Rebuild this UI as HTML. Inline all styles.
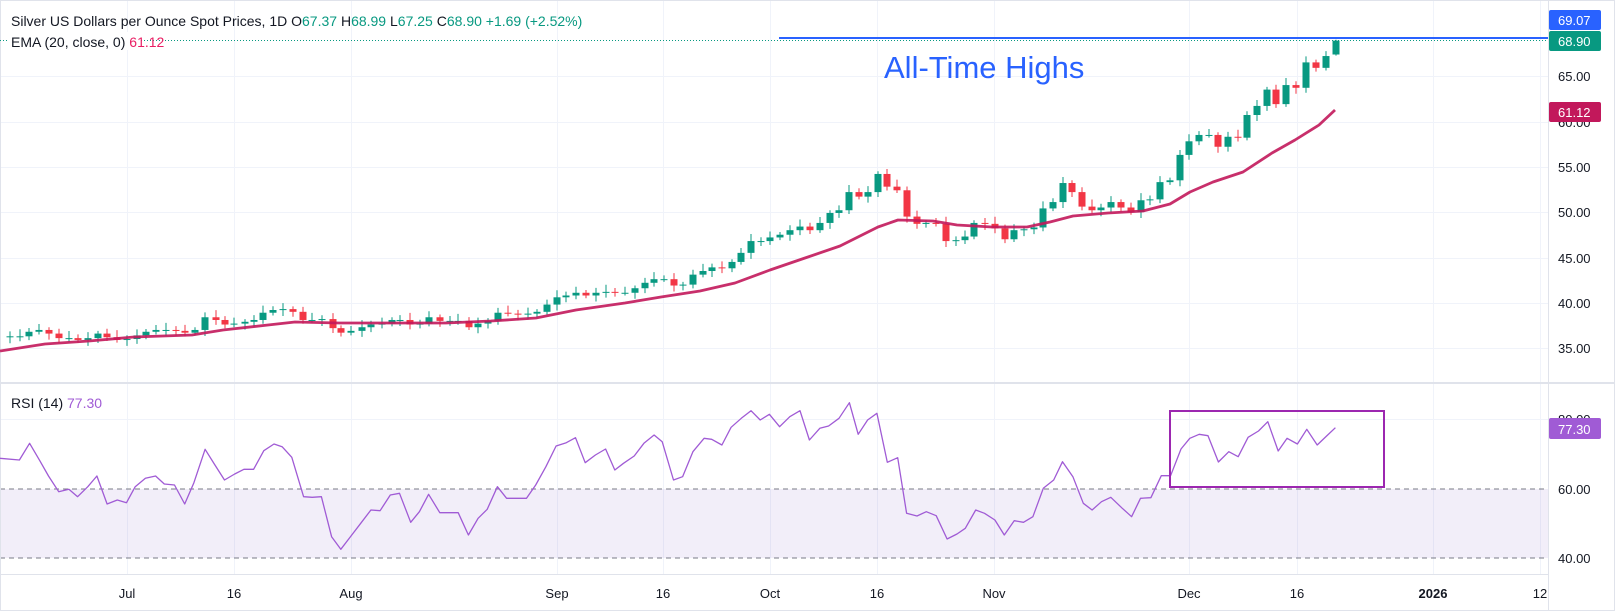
<!DOCTYPE html>
<html><head><meta charset="utf-8"><style>
html,body{margin:0;padding:0;background:#fff}
body{width:1615px;height:611px;overflow:hidden;font-family:"Liberation Sans",sans-serif}
svg{display:block}
text{font-family:"Liberation Sans",sans-serif}
</style></head><body>
<svg id="c" width="1615" height="611" xmlns="http://www.w3.org/2000/svg">
<rect x="0" y="0" width="1615" height="611" fill="#fff"/>
<g id="grid" stroke="#f0f3fa" stroke-width="1"></g>
<rect x="0" y="489" width="1548" height="69" fill="#7e57c2" fill-opacity="0.1"/>
<line x1="0" y1="489" x2="1548" y2="489" stroke="#787b86" stroke-dasharray="5,4"/>
<line x1="0" y1="558" x2="1548" y2="558" stroke="#787b86" stroke-dasharray="5,4"/>
<line x1="0" y1="383" x2="1615" y2="383" stroke="#e0e3eb" stroke-width="2"/>
<line x1="1548.5" y1="0" x2="1548.5" y2="611" stroke="#e0e3eb"/>
<line x1="0" y1="574.5" x2="1548" y2="574.5" stroke="#e0e3eb"/>
<rect x="0.5" y="0.5" width="1614" height="610" fill="none" stroke="#e0e3eb"/>
<line x1="0" y1="40.5" x2="1548" y2="40.5" stroke="#089981" stroke-dasharray="1,2"/>
<line x1="779" y1="38" x2="1548" y2="38" stroke="#2962ff" stroke-width="2"/>
<g id="candles"></g>
<polyline id="ema" fill="none" stroke="#c2185b" stroke-width="2.8" stroke-linejoin="round" stroke-opacity="0.9"/>
<polyline id="rsi" fill="none" stroke="#a05bd5" stroke-width="1.3" stroke-linejoin="round"/>
<rect x="1170" y="411" width="214" height="76" fill="none" stroke="#9c27b0" stroke-width="2"/>
<text x="884" y="78" font-size="31" fill="#2962ff">All-Time Highs</text>
<text x="11" y="26" font-size="14" fill="#131722">Silver US Dollars per Ounce Spot Prices, 1D <tspan fill="#131722">O</tspan><tspan fill="#089981">67.37</tspan> <tspan fill="#131722"> H</tspan><tspan fill="#089981">68.99</tspan> <tspan fill="#131722"> L</tspan><tspan fill="#089981">67.25</tspan> <tspan fill="#131722"> C</tspan><tspan fill="#089981">68.90  +1.69 (+2.52%)</tspan></text>
<rect x="9" y="32" width="132" height="18" fill="#fff"/>
<text x="11" y="47" font-size="14" fill="#131722">EMA (20, close, 0) <tspan fill="#e91e63">61.12</tspan></text>
<text x="11" y="408" font-size="14" fill="#131722">RSI (14) <tspan fill="#a05bd5">77.30</tspan></text>
<g id="axis" font-size="13" fill="#131722"></g>
<rect x="1549" y="10" width="52" height="20" rx="2" fill="#2962ff"/>
<text x="1558" y="25" font-size="13" fill="#fff">69.07</text>
<rect x="1549" y="31" width="52" height="20" rx="2" fill="#089981"/>
<text x="1558" y="46" font-size="13" fill="#fff">68.90</text>
<rect x="1549" y="102" width="52" height="20" rx="2" fill="#c2185b"/>
<text x="1558" y="117" font-size="13" fill="#fff">61.12</text>
<rect x="1549" y="418" width="52" height="21" rx="2" fill="#a05bd5"/>
<text x="1558" y="434" font-size="13" fill="#fff">77.30</text>
</svg>
<script>
var NS="http://www.w3.org/2000/svg";
function el(t,a,p){var e=document.createElementNS(NS,t);for(var k in a)e.setAttribute(k,a[k]);p.appendChild(e);return e;}
var grid=document.getElementById('grid'),axis=document.getElementById('axis');
[76,122,167,212,258,303,348].forEach(function(y,i){el('line',{x1:0,y1:y+.5,x2:1548,y2:y+.5},grid);});
[419].forEach(function(y){el('line',{x1:0,y1:y+.5,x2:1548,y2:y+.5},grid);});
var vx=[127,234,351,557,663,770,877,994,1189,1297,1433,1540];
vx.forEach(function(x){el('line',{x1:x+.5,y1:0,x2:x+.5,y2:574},grid);});
var pl=[["65.00",76],["60.00",122],["55.00",167],["50.00",212],["45.00",258],["40.00",303],["35.00",348],["80.00",419],["60.00",489],["40.00",558]];
pl.forEach(function(p){var t=el('text',{x:1558,y:p[1]+5},axis);t.textContent=p[0];});
var tl=[["Jul",127],["16",234],["Aug",351],["Sep",557],["16",663],["Oct",770],["16",877],["Nov",994],["Dec",1189],["16",1297],["2026",1433],["12",1540]];
tl.forEach(function(p){var t=el('text',{x:p[1],y:598,'text-anchor':'middle','font-weight':p[0]=="2026"?"bold":"normal"},axis);t.textContent=p[0];});
var C=[[0,36.2],[10,36.3],[20,36.3],[29,36.8],[39,37.0],[49,36.6],[59,36.1],[69,36.1],[78,35.9],[88,36.1],[98,36.6],[107,36.2],[117,35.9],[127,36.0],[137,36.4],[146,36.8],[156,37.0],[166,37.0],[176,36.9],[185,36.7],[195,37.0],[205,38.4],[216,38.1],[225,37.6],[234,37.7],[245,37.9],[254,38.1],[263,38.9],[273,39.2],[283,39.3],[293,39.0],[303,38.1],[312,38.1],[322,38.2],[333,37.2],[341,36.7],[351,36.9],[362,37.3],[371,37.6],[382,37.7],[392,38.1],[400,38.1],[410,37.6],[420,37.7],[429,38.4],[440,38.0],[450,38.0],[458,38.0],[469,37.3],[478,37.7],[488,38.0],[498,38.9],[508,38.8],[518,38.7],[528,38.8],[537,39.0],[547,39.8],[557,40.6],[566,40.8],[576,41.1],[586,40.8],[596,41.1],[606,41.2],[615,41.1],[625,41.1],[635,41.6],[645,42.2],[654,42.6],[664,42.6],[674,41.9],[683,42.0],[693,43.1],[703,43.5],[712,43.9],[722,43.8],[732,44.5],[741,45.5],[751,46.8],[761,46.8],[770,47.2],[780,47.5],[790,48.0],[800,48.4],[810,48.0],[820,48.8],[830,49.9],[839,50.2],[849,52.2],[859,51.7],[868,52.2],[878,54.2],[887,52.8],[897,52.4],[907,49.5],[917,48.7],[926,48.8],[936,48.7],[946,46.8],[956,46.9],[965,47.3],[974,48.8],[985,48.7],[995,48.2],[1005,47.0],[1014,48.0],[1024,48.1],[1034,48.3],[1043,50.4],[1053,51.1],[1063,53.2],[1072,52.2],[1082,50.6],[1092,50.2],[1101,50.5],[1111,51.1],[1121,50.5],[1131,50.0],[1141,51.3],[1150,51.4],[1160,53.3],[1170,53.5],[1180,56.3],[1189,57.8],[1199,58.5],[1209,58.5],[1218,57.2],[1228,58.3],[1238,58.2],[1247,60.7],[1257,61.7],[1267,63.5],[1276,61.9],[1286,64.0],[1296,63.7],[1306,66.5],[1316,65.9],[1326,67.2],[1336,68.9]];
function py(p){return 76+(65-p)*9.07;}
var cg=document.getElementById('candles');
for(var i=1;i<C.length;i++){
 var x=C[i][0],o=C[i-1][1],c=C[i][1];
 if(i==C.length-1)o=67.37;
 var up=c>=o,col=up?"#089981":"#f23645";
 var hi=Math.max(o,c)+0.3+((i*7)%5)*0.12,lo=Math.min(o,c)-0.3-((i*3)%4)*0.12;
 if(i==C.length-1){hi=68.99;lo=67.25;}
 el('line',{x1:x,y1:py(hi),x2:x,y2:py(lo),stroke:col,'stroke-width':1},cg);
 var y1=py(Math.max(o,c)),y2=py(Math.min(o,c));var h=Math.max(1,y2-y1);
 el('rect',{x:x-3.5,y:y1,width:7,height:h,fill:col},cg);
}
var E=[[0,351],[45,344],[89,341],[134,337],[192,335],[223,330],[268,325],[295,322],[339,323],[379,323],[446,323],[491,321],[536,318],[576,310],[625,303],[661,297],[700,291],[735,283],[770,270],[805,258],[840,246],[878,227],[898,220],[933,221],[957,225],[992,227],[1027,227],[1050,222],[1073,216],[1108,213],[1143,211],[1170,204],[1190,192],[1213,182],[1243,172],[1272,153],[1295,140],[1319,125],[1335,110]];
document.getElementById('ema').setAttribute('points',E.map(function(p){return p.join(',')}).join(' '));
var R3=[[5,265],[38,270],[58,220],[78,272],[95,318],[115,365],[135,358],[152,380],[172,350],[190,318],[210,402],[230,390],[248,398],[265,350],[285,325],[305,318],[322,342],[342,345],[362,402],[380,338],[402,238],[420,282],[440,330],[460,312],[478,298],[497,298],[517,242],[537,222],[553,230],[572,262],[595,380],[612,382],[630,380],[650,500],[668,538],[688,498],[708,458],[727,420],[745,422],[765,375],[783,370],[805,457],[822,425],[840,373],[862,428],[880,428],[898,428],[918,495],[937,445],[955,418],[975,350],[993,385],[1012,385],[1032,385],[1050,345],[1070,290],[1090,228],[1110,218],[1128,203],[1147,278],[1167,255],[1187,237],[1205,300],[1222,280],[1243,258],[1262,220],[1282,195],[1298,215],[1320,330],[1338,320],[1358,245],[1380,205],[1395,208],[1415,225],[1433,172],[1453,145],[1472,122],[1490,150],[1508,133],[1528,170],[1548,140]];
var R4=[[0,122],[18,210],[38,175],[55,168],[75,145],[95,98],[112,193],[130,150],[148,130],[168,277],[188,263],[205,430],[225,438],[243,425],[262,437],[283,507],[302,492],[318,475],[338,420],[355,430],[375,450],[393,495],[412,452],[430,457],[448,440],[468,355],[488,330],[505,275],[525,320],[545,400],[562,420],[580,395],[598,382],[620,415],[638,440],[655,385],[675,383],[695,317],[713,317],[733,237],[750,205],[768,193],[785,197],[805,276],[825,245],[843,260],[862,202],[882,183],[900,155],[920,243],[937,205],[957,222],[975,178],[995,225],[1013,198],[1030,173]];
var pts=R3.map(function(p){return [(p[0]*0.5102).toFixed(1),(370+p[1]/3).toFixed(1)]}).concat(R4.map(function(p){return [(800+p[0]*0.5198).toFixed(1),(370+p[1]/3).toFixed(1)]}));
pts[0][0]=0;
document.getElementById('rsi').setAttribute('points',pts.map(function(p){return p.join(',')}).join(' '));
</script>
</body></html>
